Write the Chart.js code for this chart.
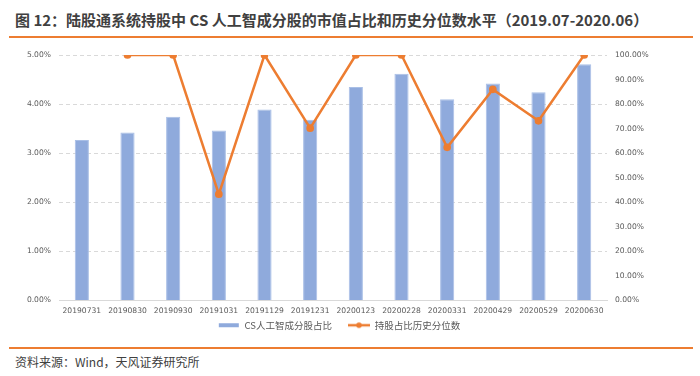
<!DOCTYPE html>
<html>
<head>
<meta charset="utf-8">
<script src="https://cdn.jsdelivr.net/npm/chart.js@4.4.0/dist/chart.umd.min.js"></script>
<style>
    body { margin: 0; width: 700px; height: 376px; background: #fff; position: relative; overflow: hidden;
        font-family: "Noto Sans CJK SC", "Liberation Sans", sans-serif; }
    #title { position: absolute; left: 15px; top: 9px; font-size: 15px; font-weight: bold; color: #404040; white-space: nowrap; }
    .rule { position: absolute; left: 9px; width: 684px; height: 2px; background: #ED7D31; }
    #source { position: absolute; left: 15px; top: 353px; font-size: 12px; color: #404040; }
    #wrap { position: absolute; left: 0; top: 40px; width: 700px; height: 300px; }
</style>
</head>
<body>
<div id="title">图 12：陆股通系统持股中 CS 人工智成分股的市值占比和历史分位数水平（2019.07-2020.06）</div>
<div class="rule" style="top:36px"></div>
<div id="wrap"><canvas id="chart"></canvas></div>
<div class="rule" style="top:347px"></div>
<div id="source">资料来源：Wind，天风证券研究所</div>
<script>
    var categories = ['20190731', '20190830', '20190930', '20191031', '20191129', '20191231',
        '20200123', '20200228', '20200331', '20200429', '20200529', '20200630'];
    // CS人工智成分股占比 (%)
    var shareValues = [3.27, 3.42, 3.74, 3.46, 3.89, 3.68, 4.35, 4.62, 4.10, 4.42, 4.24, 4.81];
    // 持股占比历史分位数 (%)
    var percentileValues = [null, 100, 100, 43.3, 100, 70.2, 100, 100, 62.4, 86.0, 73.2, 100];
    var barLabel = 'CS人工智成分股占比';
    var lineLabel = '持股占比历史分位数';

    var barColor = '#8FAADC';
    var lineColor = '#ED7D31';

    // 图例图标 (左侧留空, 拉开两项间距)
    function legendIcon(type) {
        var c = document.createElement('canvas');
        c.width = 32; c.height = 8;
        var g = c.getContext('2d');
        if (type === 'bar') {
            g.fillStyle = barColor;
            g.fillRect(11, 2, 20, 4);
        } else {
            g.strokeStyle = lineColor;
            g.lineWidth = 2.5;
            g.beginPath(); g.moveTo(10, 4); g.lineTo(32, 4); g.stroke();
            g.fillStyle = lineColor;
            g.beginPath(); g.arc(21, 4, 2.8, 0, Math.PI * 2); g.fill();
        }
        return c;
    }
    var icons = [legendIcon('line'), legendIcon('bar')];

    var tickFont = {family: 'DejaVu Sans', size: 7.6};
    var tickColor = '#595959';

    // 图例整体左移一点, 与原图对齐
    var legendShift = {
        id: 'legendShift',
        afterLayout: function (chart) {
            if (chart.legend) {
                chart.legend.left -= 16;
                chart.legend.right -= 16;
            }
        }
    };

    new Chart(document.getElementById('chart').getContext('2d'), {
        data: {
            labels: categories,
            datasets: [{
                type: 'line',
                label: lineLabel,
                data: percentileValues,
                borderColor: lineColor,
                backgroundColor: lineColor,
                borderWidth: 2.5,
                pointRadius: 2.6,
                pointHoverRadius: 2.6,
                pointStyle: 'circle',
                tension: 0,
                yAxisID: 'y1',
                order: 1
            }, {
                type: 'bar',
                label: barLabel,
                data: shareValues,
                backgroundColor: barColor,
                borderColor: '#A9BFE6',
                borderWidth: 1,
                barPercentage: 0.31,
                categoryPercentage: 1,
                yAxisID: 'y',
                order: 2
            }]
        },
        options: {
            responsive: true,
            maintainAspectRatio: false,
            animation: false,
            layout: {padding: {top: 15, bottom: 0}},
            scales: {
                x: {
                    grid: {display: false, drawTicks: false},
                    border: {color: '#D9D9D9'},
                    ticks: {font: tickFont, color: tickColor, maxRotation: 0, padding: 6, autoSkip: false},
                    afterFit: function (s) { s.height = 14; }
                },
                y: {
                    position: 'left',
                    min: 0, max: 5,
                    grid: {color: '#D9D9D9', drawTicks: false},
                    border: {display: false, dash: [4, 3]},
                    ticks: {stepSize: 1, font: tickFont, color: tickColor, padding: 8,
                        callback: function (v) { return v.toFixed(2) + '%'; }},
                    afterFit: function (s) { s.width = 59; }
                },
                y1: {
                    position: 'right',
                    min: 0, max: 100,
                    grid: {drawOnChartArea: false, drawTicks: false},
                    border: {display: false},
                    ticks: {stepSize: 10, font: tickFont, color: tickColor, padding: 8,
                        callback: function (v) { return v.toFixed(2) + '%'; }},
                    afterFit: function (s) { s.width = 93; }
                }
            },
            plugins: {
                legend: {
                    position: 'bottom',
                    reverse: true,
                    labels: {
                        usePointStyle: true,
                        pointStyleWidth: 32,
                        boxHeight: 8,
                        padding: 6,
                        font: {family: 'Noto Sans CJK SC', size: 9.5},
                        color: tickColor,
                        generateLabels: function (chart) {
                            var items = Chart.defaults.plugins.legend.labels.generateLabels(chart);
                            items.forEach(function (it) { it.pointStyle = icons[it.datasetIndex]; });
                            return items;
                        }
                    }
                },
                tooltip: {enabled: false}
            }
        },
        plugins: [legendShift]
    });
</script>
</body>
</html>
